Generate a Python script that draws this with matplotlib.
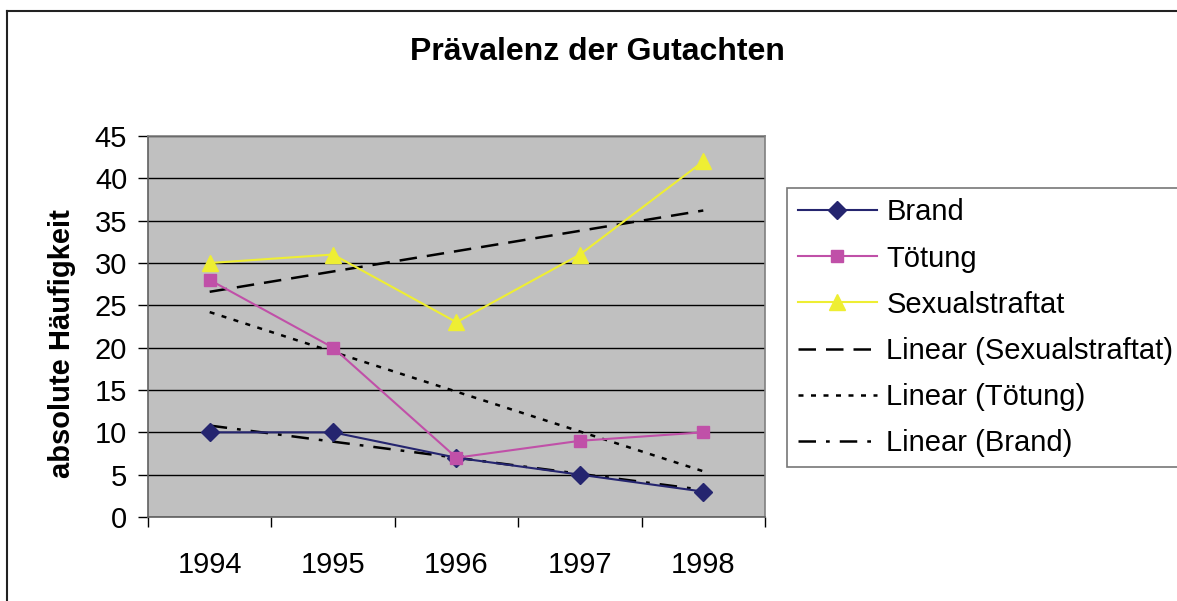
import matplotlib.pyplot as plt
import numpy as np
from matplotlib.lines import Line2D

plt.rcParams['font.family'] = ['Liberation Sans', 'DejaVu Sans']

years = ['1994', '1995', '1996', '1997', '1998']
brand = [10, 10, 7, 5, 3]
toetung = [28, 20, 7, 9, 10]
sexual = [30, 31, 23, 31, 42]

c_brand = '#25256F'
c_toet = '#C050A8'
c_sex = '#EEEE33'

x = np.arange(len(years))

fig = plt.figure(figsize=(11.77, 6.01), dpi=100)
ax = fig.add_axes([148/1177, 1-517/601, (765-148)/1177, (517-136)/601])
ax.set_facecolor('#C0C0C0')

# data series
ax.plot(x, brand, color=c_brand, lw=1.5, marker='D', ms=9, mec=c_brand, label='Brand', zorder=4)
ax.plot(x, toetung, color=c_toet, lw=1.5, marker='s', ms=9, mec=c_toet, label='Tötung', zorder=4)
ax.plot(x, sexual, color=c_sex, lw=1.5, marker='^', ms=11, mec=c_sex, label='Sexualstraftat', zorder=4)

# linear trend lines (least squares, like Excel)
def trend(y):
    k, b = np.polyfit(x, y, 1)
    return k*x + b

ax.plot(x, trend(sexual), color='black', lw=1.8, dashes=(7, 4), label='Linear (Sexualstraftat)', zorder=3)
ax.plot(x, trend(toetung), color='black', lw=1.8, dashes=(2, 3), label='Linear (Tötung)', zorder=3)
ax.plot(x, trend(brand), color='black', lw=1.8, dashes=(7, 4, 1.5, 4), label='Linear (Brand)', zorder=3)

ax.set_xlim(-0.5, 4.5)
ax.set_ylim(0, 45)
ax.set_yticks(range(0, 46, 5))
ax.yaxis.grid(True, color='black', lw=1)
ax.set_axisbelow(True)

ax.set_xticks(x)
ax.set_xticklabels(years)
ax.set_xticks(np.arange(-0.5, 5, 1), minor=True)
ax.tick_params(axis='x', which='major', length=0, pad=24.5, labelsize=21)
ax.tick_params(axis='x', which='minor', length=7, width=1, direction='out')
ax.tick_params(axis='y', length=7, width=1, pad=8, labelsize=21)

for s in ['top', 'right']:
    ax.spines[s].set_color('#808080')
    ax.spines[s].set_linewidth(1.2)
for s in ['left', 'bottom']:
    ax.spines[s].set_color('#606060')
    ax.spines[s].set_linewidth(1.2)

fig.text(597/1177, 1-52/601, 'Prävalenz der Gutachten', ha='center', va='center',
         fontsize=23, fontweight='bold')
fig.text(62/1177, 1-344/601, 'absolute Häufigkeit', ha='center', va='center',
         rotation=90, fontsize=21, fontweight='bold')

leg = fig.legend(loc='upper left', bbox_to_anchor=(787/1177, 1-188/601),
                 fontsize=21, frameon=True, fancybox=False, handlelength=2.74,
                 handletextpad=0.31, borderpad=0.36, labelspacing=0.62,
                 borderaxespad=0, numpoints=1)
leg.get_frame().set_edgecolor('#555555')
leg.get_frame().set_linewidth(1.2)

# outer chart border
fig.add_artist(Line2D([7/1177, 7/1177], [0, 1-11/601], transform=fig.transFigure, color='#222222', lw=1.5))
fig.add_artist(Line2D([7/1177, 1], [1-11/601, 1-11/601], transform=fig.transFigure, color='#222222', lw=1.5))

fig.savefig('out.png', dpi=100)
